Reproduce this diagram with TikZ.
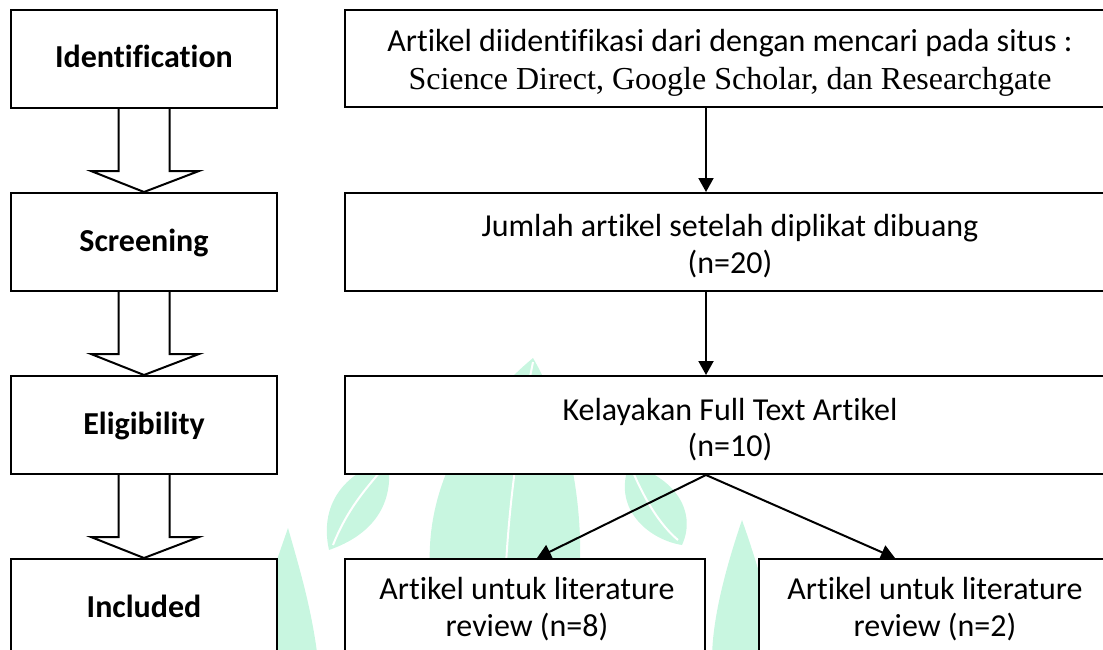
\documentclass[tikz,border=0pt]{standalone}
\usepackage{fontspec}
\setmainfont{Carlito}[Ligatures={NoCommon}]
\newfontfamily\timesf{Liberation Serif}
\usetikzlibrary{calc,arrows.meta}
\definecolor{mint}{RGB}{200,246,224}
\tikzset{
 box/.style={draw=black, line width=2pt, fill=white, inner sep=0pt, minimum width=266pt, minimum height=98pt, text height=18pt, text depth=0pt, font=\fontsize{32}{38}\selectfont\bfseries},
 wbox/.style={draw=black, line width=2pt, fill=white, inner sep=0pt, minimum height=98pt},
 txt/.style={inner sep=0pt, anchor=base, font=\fontsize{32}{38}\selectfont},
 ttxt/.style={inner sep=0pt, anchor=base, font=\fontsize{32}{38}\selectfont\timesf},
 arr/.style={line width=2pt, -{Triangle[width=15pt,length=14pt]}},
 blk/.style={draw=black, line width=2pt, line join=miter},
 leaf/.style={fill=mint, draw=none},
 vein/.style={draw=white, line width=2pt}
}
\newcommand\blkarrow[2]{\draw[blk] ($(#1.south)+(-25.5,0)$) -- ($(#2.north)+(-25.5,-21)$) -- ($(#2.north)+(-53,-21)$) -- (#2.north) -- ($(#2.north)+(55,-21)$) -- ($(#2.north)+(25.5,-21)$) -- ($(#1.south)+(25.5,0)$);}
\begin{document}
\begin{tikzpicture}[x=1pt,y=-1pt]
\useasboundingbox (0,0) rectangle (1103,650);
\clip (0,0) rectangle (1103,650);
% watermark leaves
\fill[leaf] (533,358) .. controls (435,440) and (395,560) .. (465,680) -- (560,680) .. controls (600,560) and (575,430) .. (533,358);
\draw[vein] (533,362) .. controls (515,450) and (500,560) .. (505,680);
\fill[leaf] (329,550) .. controls (318,500) and (350,470) .. (388,460) .. controls (395,505) and (372,535) .. (329,550);
\draw[vein] (333,545) .. controls (345,515) and (360,495) .. (380,472);
\fill[leaf] (629,465) .. controls (612,510) and (650,540) .. (682,545) .. controls (698,510) and (672,475) .. (629,465);
\draw[vein] (633,472) .. controls (645,500) and (660,525) .. (678,540);
\fill[leaf] (288,528) .. controls (270,580) and (255,620) .. (258,660) -- (318,660) .. controls (312,610) and (300,570) .. (288,528);
\fill[leaf] (742,520) .. controls (725,570) and (712,620) .. (712,660) -- (778,660) .. controls (772,610) and (756,560) .. (742,520);
% left column
\node[box] (id) at (144,59) {Identification};
\node[box] (scr) at (144,242) {Screening};
\node[box] (eli) at (144,425) {Eligibility};
\node[box] (inc) at (144,608) {Included};
\blkarrow{id}{scr}
\blkarrow{scr}{eli}
\blkarrow{eli}{inc}
% right column
\node[wbox, minimum width=770pt, minimum height=97pt] (r1) at (730,58.5) {};
\node[wbox, minimum width=770pt] (r2) at (730,242) {};
\node[wbox, minimum width=770pt] (r3) at (730,425) {};
\node[wbox, minimum width=360pt] (r4a) at (525,608) {};
\node[wbox, minimum width=352pt] (r4b) at (935,608) {};
\coordinate (ax) at (706,0);
\node[txt] (t1a) at (730,52) {Artikel diidentifikasi dari dengan mencari pada situs :};
\node[ttxt] (t1b) at (730,90) {Science Direct, Google Scholar, dan Researchgate};
\node[txt] (t2a) at (730,236) {Jumlah artikel setelah diplikat dibuang};
\node[txt] (t2b) at (730,273) {(n=20)};
\node[txt] (t3a) at (730,420) {Kelayakan Full Text Artikel};
\node[txt] (t3b) at (730,456) {(n=10)};
\node[txt] (t4a1) at (527,599) {Artikel untuk literature};
\node[txt] (t4a2) at (527,636) {review (n=8)};
\node[txt] (t4b1) at (935,599) {Artikel untuk literature};
\node[txt] (t4b2) at (935,636) {review (n=2)};
\draw[arr] (r1.south -| ax) -- (r2.north -| ax);
\draw[arr] (r2.south -| ax) -- (r3.north -| ax);
\draw[arr] (r3.south -| ax) -- ([xshift=12pt]r4a.north);
\draw[arr] (r3.south -| ax) -- ([xshift=-40pt]r4b.north);
\end{tikzpicture}
\end{document}
